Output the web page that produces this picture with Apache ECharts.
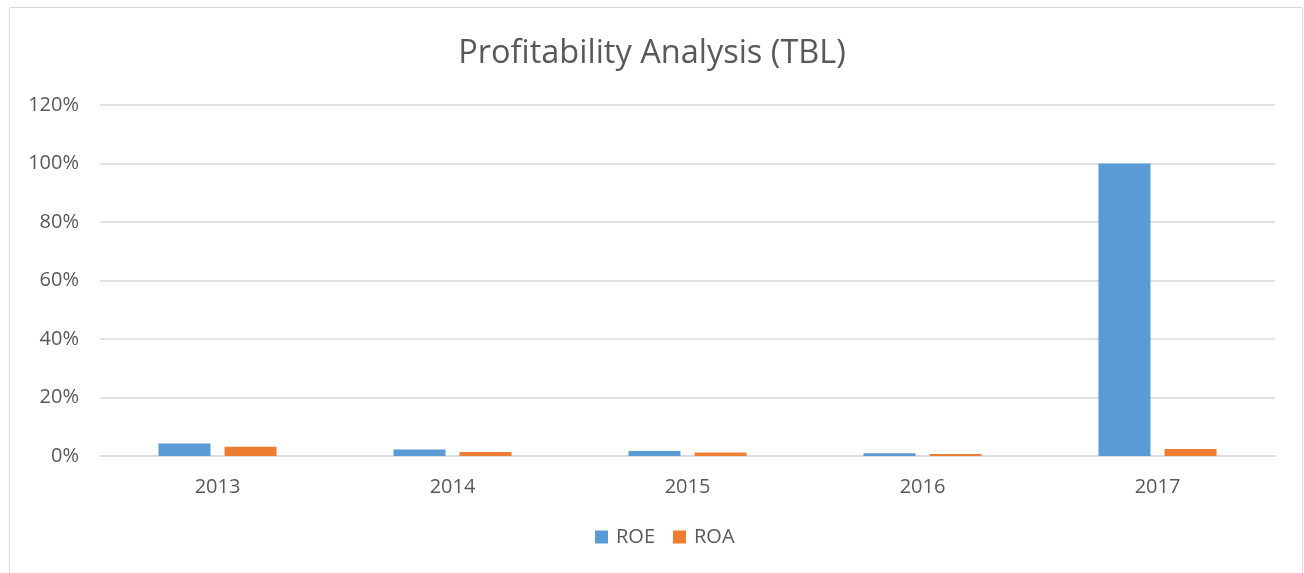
<!DOCTYPE html>
<html>
<head>
<meta charset="utf-8">
<script src="https://cdn.jsdelivr.net/npm/echarts@6/dist/echarts.min.js"></script>
<style>
html,body{margin:0;padding:0;background:#fff;}
#chart{width:1304px;height:573px;}
</style>
</head>
<body>
<div id="chart"></div>
<script>
// data
const years = ['2013', '2014', '2015', '2016', '2017']
const roe = [4.3, 2.2, 1.7, 0.9, 100]
const roa = [3.2, 1.4, 1.2, 0.7, 2.4]

const textColor = '#595959'
const fontFamily = 'Open Sans, sans-serif'

const chart = echarts.init(document.getElementById('chart'))
const option = {
    backgroundColor: '#fff',
    animation: false,
    textStyle: { fontFamily: fontFamily },
    graphic: [{
        type: 'rect',
        shape: { x: 9.5, y: 7.5, width: 1293, height: 580 },
        style: { fill: 'none', stroke: '#d9d9d9', lineWidth: 1 },
        silent: true
    }],
    title: {
        text: 'Profitability Analysis (TBL)',
        left: 'center',
        top: 32,
        textStyle: { fontSize: 32.5, fontWeight: 'normal', color: textColor, fontFamily: fontFamily }
    },
    legend: {
        bottom: 21,
        left: 590,
        icon: 'rect',
        itemWidth: 13,
        itemHeight: 13,
        itemGap: 18,
        textStyle: { fontSize: 20, color: textColor, padding: [0, 0, 0, 3] },
        data: ['ROE', 'ROA']
    },
    grid: { left: 100, right: 29, top: 105, bottom: 117, containLabel: false },
    xAxis: {
        type: 'category',
        data: years,
        axisTick: { show: false },
        axisLine: { lineStyle: { color: '#d9d9d9', width: 1.5 } },
        axisLabel: { fontSize: 20, color: textColor, margin: 21 }
    },
    yAxis: {
        type: 'value',
        min: 0,
        max: 120,
        interval: 20,
        axisLine: { show: false },
        axisTick: { show: false },
        splitLine: { lineStyle: { color: '#d9d9d9', width: 1.5 } },
        axisLabel: { fontSize: 20, color: textColor, margin: 21, formatter: '{value}%' }
    },
    series: [
        {
            name: 'ROE',
            type: 'bar',
            data: roe,
            barWidth: 52,
            barGap: '27%',
            itemStyle: { color: '#5b9bd5' }
        },
        {
            name: 'ROA',
            type: 'bar',
            data: roa,
            barWidth: 52,
            itemStyle: { color: '#ed7d31' }
        }
    ]
}
chart.setOption(option)
</script>
</body>
</html>
